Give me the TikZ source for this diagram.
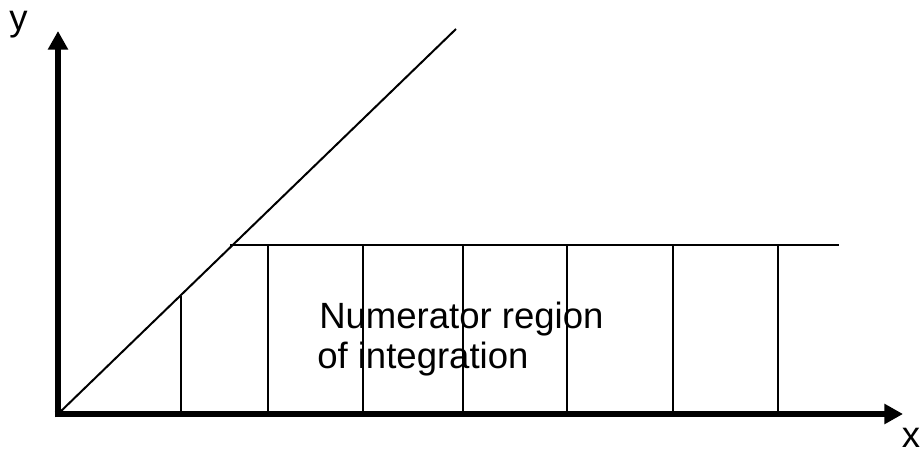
\documentclass[tikz,border=0pt]{standalone}
\usepackage{fontspec}
\setmainfont{Liberation Sans}
\usetikzlibrary{arrows.meta}
\begin{document}
\begin{tikzpicture}[x=0.75pt,y=-0.75pt,
  thinline/.style={line width=1.5pt, line cap=butt},
  axisline/.style={line width=5pt, -{Triangle[length=14pt,width=14.5pt]}},
  lbl/.style={inner sep=0pt, font=\fontsize{27.4}{30}\selectfont}]
\useasboundingbox (0,0) rectangle (921,453);
% coordinates
\coordinate (O) at (58,414);
\coordinate (ytip) at (58,31);
\coordinate (xtip) at (903,414);
\coordinate (dtop) at (456,29);
\coordinate (hstart) at (230,245);
\coordinate (hend) at (839,245);
% diagonal
\draw[thinline] (O) -- (dtop);
% horizontal top
\draw[thinline] (hstart) -- (hend);
% verticals
\coordinate (v1b) at (181,414); \coordinate (v1t) at (181,296);
\draw[thinline] (v1b) -- (v1t);
\foreach \i/\xx in {2/268,3/363,4/463,5/567,6/673,7/778}{
  \coordinate (v\i b) at (\xx,414);
  \coordinate (v\i t) at (\xx,245);
  \draw[thinline] (v\i b) -- (v\i t);
}
% axes
\draw[axisline] ([xshift=-2.5pt]O) -- (xtip);
\draw[axisline] ([yshift=-2.5pt]O) -- (ytip);
% labels
\node[lbl, anchor=base] (ylab) at (18.5,31) {y};
\node[lbl, anchor=base] (xlab) at (911,447) {x};
\node[lbl, anchor=base west] (t1) at (319,328) {Numerator region};
\node[lbl, anchor=base west] (t2) at (317,368) {of integration};
\end{tikzpicture}
\end{document}
